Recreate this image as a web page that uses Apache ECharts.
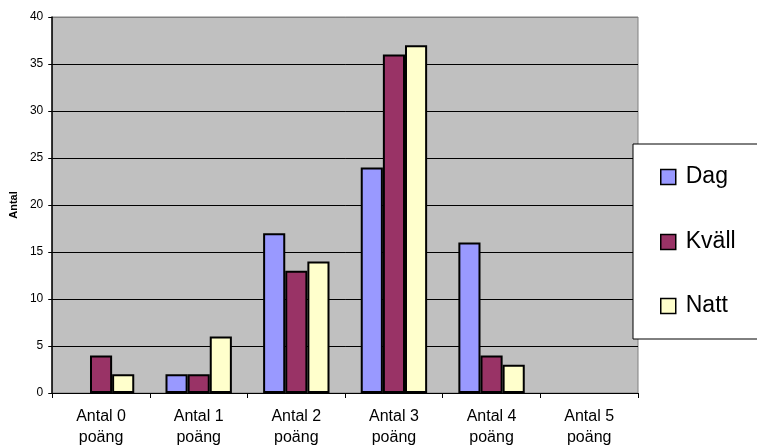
<!DOCTYPE html>
<html>
<head>
<meta charset="utf-8">
<script src="https://cdn.jsdelivr.net/npm/echarts@6/dist/echarts.min.js"></script>
<style>
  html, body { margin: 0; padding: 0; background: #fff; }
  #chart { width: 757px; height: 448px; }
</style>
</head>
<body>
<div id="chart"></div>
<script>
// Score groups and counts per shift
const categories = ['Antal 0\npoäng', 'Antal 1\npoäng', 'Antal 2\npoäng', 'Antal 3\npoäng', 'Antal 4\npoäng', 'Antal 5\npoäng'];
const dag   = [0, 2, 17, 24, 16, 0];
const kvall = [4, 2, 13, 36, 4, 0];
const natt  = [2, 6, 14, 37, 3, 0];
const seriesNames = ['Dag', 'Kväll', 'Natt'];
const seriesColors = ['#9999FF', '#993366', '#FFFFCC'];

const chart = echarts.init(document.getElementById('chart'));
const font = 'Liberation Sans, Arial, sans-serif';

// Empty bars get no outline so a zero count leaves nothing on the baseline
function bar(name, data, color) {
  return {
    name: name,
    type: 'bar',
    data: data.map(function (v) {
      return v === 0 ? { value: v, itemStyle: { borderWidth: 0 } } : v;
    }),
    barGap: '0%',
    barCategoryGap: '32%',
    itemStyle: { color: color, borderColor: '#000', borderWidth: 2 },
    emphasis: { disabled: true }
  };
}

// One legend block per series, stacked inside the white box
const legendCenters = [177, 242, 306];
const legends = seriesNames.map(function (n, i) {
  return {
    orient: 'vertical',
    left: 660,
    top: legendCenters[i] - 12,
    padding: 0,
    itemWidth: 15, itemHeight: 15,
    icon: 'rect',
    z: 20,
    textStyle: { color: '#000', fontFamily: font, fontSize: 23, lineHeight: 24, padding: [0, 0, 0, 5] },
    itemGap: 0,
    data: [{ name: n, itemStyle: { borderColor: '#000', borderWidth: 1.5 } }]
  };
});

chart.setOption({
  animation: false,
  backgroundColor: '#fff',
  grid: {
    left: 52, top: 17, width: 586, height: 376,
    show: true, backgroundColor: '#C0C0C0', borderColor: '#808080', borderWidth: 1
  },
  xAxis: {
    type: 'category',
    data: categories,
    axisLine: { lineStyle: { color: '#000', width: 1 } },
    axisTick: { show: true, length: 5, lineStyle: { color: '#000' } },
    axisLabel: { color: '#000', fontFamily: font, fontSize: 16, lineHeight: 21, margin: 13 }
  },
  yAxis: {
    type: 'value',
    min: 0, max: 40, interval: 5,
    name: 'Antal',
    nameLocation: 'middle',
    nameGap: 32,
    nameTextStyle: { color: '#000', fontFamily: font, fontSize: 11, fontWeight: 'bold' },
    axisLine: { show: true, lineStyle: { color: '#000', width: 1.5 } },
    axisTick: { show: true, length: 4, lineStyle: { color: '#000' } },
    axisLabel: { color: '#000', fontFamily: font, fontSize: 12, margin: 9 },
    splitLine: { show: true, lineStyle: { color: ['#000','#000','#000','#000','#000','#000','#000','#000','#808080'], width: 1 } }
  },
  legend: legends,
  graphic: [{
    type: 'rect',
    z: 10,
    shape: { x: 633, y: 144, width: 140, height: 195 },
    style: { fill: '#fff', stroke: '#000', lineWidth: 1 }
  }],
  series: [
    bar(seriesNames[0], dag, seriesColors[0]),
    bar(seriesNames[1], kvall, seriesColors[1]),
    bar(seriesNames[2], natt, seriesColors[2])
  ]
});
</script>
</body>
</html>
